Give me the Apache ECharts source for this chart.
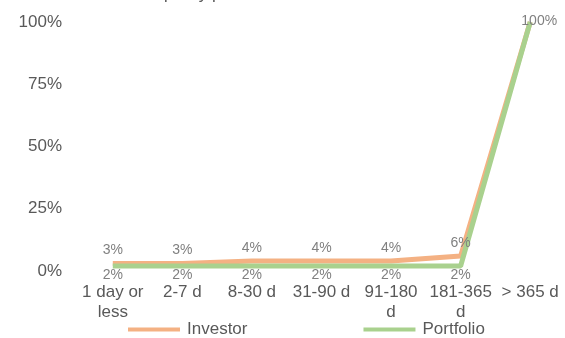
<!DOCTYPE html>
<html>
<head>
<meta charset="utf-8">
<script src="https://cdn.jsdelivr.net/npm/echarts@6/dist/echarts.min.js"></script>
<style>
    html, body { margin: 0; padding: 0; background: #fff; }
    #chart { width: 565px; height: 338px; }
</style>
</head>
<body>
<div id="chart"></div>
<script>
// 流动性分布（投资者 vs 组合）
var categories = ['1 day or\nless', '2-7 d', '8-30 d', '31-90 d', '91-180\nd', '181-365\nd', '> 365 d'];
var investorValues = [3, 3, 4, 4, 4, 6, 100];
var portfolioValues = [2, 2, 2, 2, 2, 2, 100];
var yTicks = [0, 25, 50, 75, 100];

var labelColor = '#808080';
var axisColor = '#595959';
var fontName = '"Liberation Sans", Arial, sans-serif';

var chart = echarts.init(document.getElementById('chart'));

var lastIdx = investorValues.length - 1;
var portfolioData = portfolioValues.map(function(v, i) {
    if (i === lastIdx) {
        return { value: v, label: { show: false } };
    }
    return v;
});

var option = {
    backgroundColor: '#fff',
    animation: false,
    title: {
        text: 'Liquidity profile',
        left: 140,
        top: -19,
        textStyle: { fontFamily: fontName, fontSize: 17, fontWeight: 'normal', color: axisColor }
    },
    grid: { left: 78, right: -3, top: 22, bottom: 67 },
    legend: {
        left: 123,
        top: 316,
        icon: 'rect',
        itemWidth: 52,
        itemHeight: 4,
        itemGap: 116,
        textStyle: { fontFamily: fontName, fontSize: 17, color: axisColor, padding: [0, 0, 0, 2] },
        data: ['Investor', 'Portfolio']
    },
    xAxis: {
        type: 'category',
        data: categories,
        boundaryGap: true,
        axisLine: { show: false },
        axisTick: { show: false },
        axisLabel: {
            interval: 0,
            margin: 11,
            fontFamily: fontName,
            fontSize: 17,
            lineHeight: 20,
            color: axisColor
        }
    },
    yAxis: {
        type: 'value',
        min: yTicks[0],
        max: yTicks[yTicks.length - 1],
        interval: 25,
        splitLine: { show: false },
        axisLine: { show: false },
        axisTick: { show: false },
        axisLabel: {
            margin: 16,
            fontFamily: fontName,
            fontSize: 17,
            color: axisColor,
            formatter: '{value}%'
        }
    },
    series: [
        {
            name: 'Investor',
            type: 'line',
            data: investorValues,
            symbol: 'circle',
            symbolSize: 0.01,
            showSymbol: true,
            itemStyle: { color: '#F4B183' },
            color: '#F4B183',
            lineStyle: { width: 5, color: '#F4B183' },
            label: {
                show: true,
                position: 'top',
                distance: 6,
                fontFamily: fontName,
                fontSize: 14,
                color: labelColor,
                formatter: '{c}%'
            },
            labelLayout: function(params) {
                // 最后一个点的标签贴着线顶端
                if (params.dataIndex === lastIdx) {
                    return { dx: 9, dy: 12, hideOverlap: false };
                }
                return { hideOverlap: false };
            }
        },
        {
            name: 'Portfolio',
            type: 'line',
            data: portfolioData,
            symbol: 'circle',
            symbolSize: 0.01,
            showSymbol: true,
            itemStyle: { color: '#A9D18E' },
            color: '#A9D18E',
            lineStyle: { width: 5, color: '#A9D18E' },
            label: {
                show: true,
                position: 'bottom',
                distance: 2,
                fontFamily: fontName,
                fontSize: 14,
                color: labelColor,
                formatter: '{c}%'
            },
            labelLayout: { hideOverlap: false }
        }
    ]
};

chart.setOption(option);
</script>
</body>
</html>
